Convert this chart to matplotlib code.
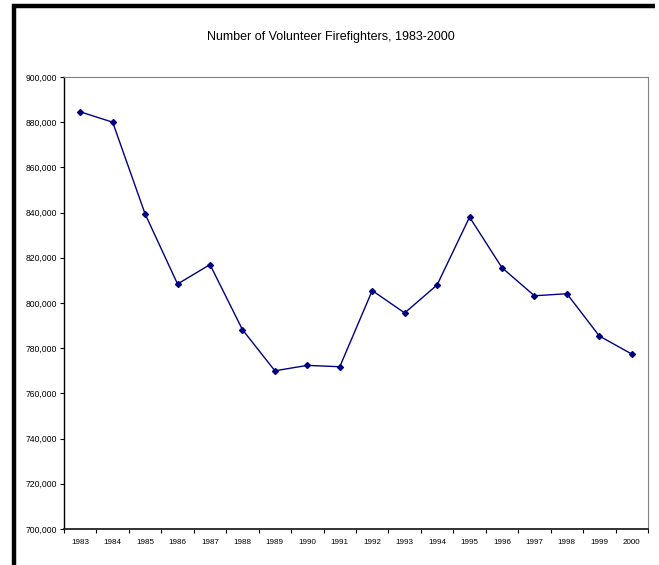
import numpy as np
import matplotlib
matplotlib.use("Agg")
import matplotlib.pyplot as plt
from matplotlib.lines import Line2D

plt.rcParams['font.family'] = ['Liberation Sans', 'DejaVu Sans']

years = [str(y) for y in range(1983, 2001)]
firefighters = [884600, 880000, 839400, 808400, 817000, 788200, 770000, 772400, 771800,
                805500, 795600, 808000, 838000, 815600, 803200, 804100, 785400, 777400]
y_ticks = list(range(700000, 900001, 20000))

W, H = 659, 565
fig = plt.figure(figsize=(W / 100, H / 100), dpi=100)
ax = fig.add_axes([64 / W, 1 - 529 / H, (648 - 64) / W, (529 - 77) / H])

x = np.arange(len(years))
ax.plot(x, firefighters, color="#000080", lw=1, marker="D", markersize=3, zorder=3)

ax.set_xlim(-0.5, len(years) - 0.5)
ax.set_ylim(700000, 900000)
ax.set_yticks(y_ticks)
ax.set_yticklabels([f"{v:,}" for v in y_ticks], fontsize=6.2)
ax.tick_params(axis="y", length=3, width=0.8, pad=2, direction="out")

# labels sit in the middle of each category, ticks sit on the boundaries
ax.set_xticks(x)
ax.set_xticklabels(years, fontsize=5.8)
ax.set_xticks(np.arange(-0.5, len(years)), minor=True)
ax.tick_params(axis="x", which="major", length=0, pad=7)
ax.tick_params(axis="x", which="minor", length=3, width=0.8, direction="out")

for side in ("top", "right"):
    ax.spines[side].set_color("#808080")
    ax.spines[side].set_linewidth(0.8)
ax.spines["left"].set_color("black")
ax.spines["left"].set_linewidth(1)
ax.spines["bottom"].set_color("#222222")
ax.spines["bottom"].set_linewidth(1.3)

fig.text(331 / W, 1 - 37 / H, "Number of Volunteer Firefighters, 1983-2000",
         ha="center", va="center", fontsize=9)

# thick black frame on the left and top of the picture
fig.add_artist(Line2D([14 / W, 14 / W], [0, 1 - 4 / H], color="black", lw=3.2,
                      transform=fig.transFigure, solid_capstyle="butt"))
fig.add_artist(Line2D([12 / W, 655 / W], [1 - 6 / H, 1 - 6 / H], color="black", lw=3.2,
                      transform=fig.transFigure, solid_capstyle="butt"))

fig.savefig("out.png", dpi=100)
